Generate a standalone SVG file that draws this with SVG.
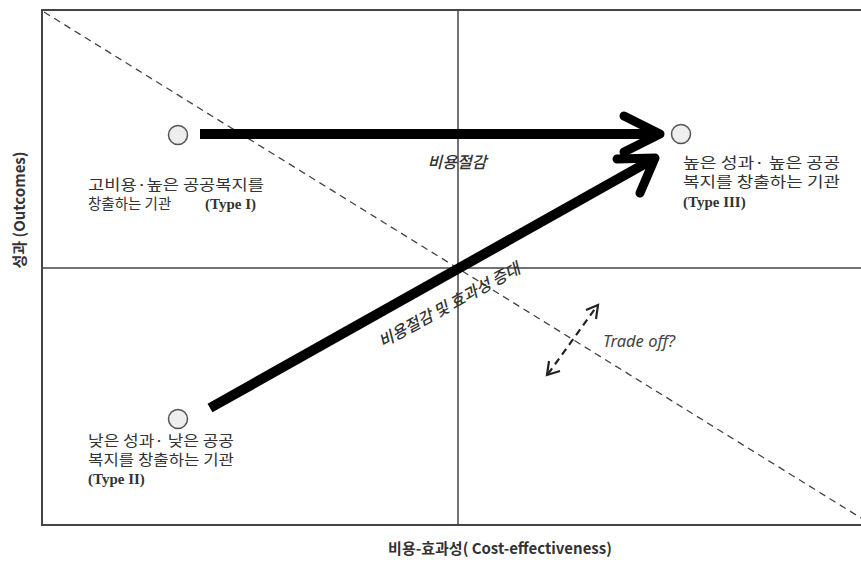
<svg xmlns="http://www.w3.org/2000/svg" width="861" height="562" viewBox="0 0 861 562">
<style>
.frame{stroke:#444;stroke-width:2;fill:none}
.axis{stroke:#444;stroke-width:1.5;fill:none}
.dash{stroke:#444;stroke-width:1.3;stroke-dasharray:7 5;fill:none}
.thick{stroke:#000;stroke-width:10;fill:none;stroke-linejoin:round}
.head{stroke:#000;stroke-width:9;fill:none;stroke-linecap:round;stroke-linejoin:round}
.node{fill:#eee;stroke:#555;stroke-width:1.5}
.ko{font-family:"Noto Sans CJK KR","Noto Sans",sans-serif;font-size:14.5px;fill:#333}
.ser{font-family:"Liberation Serif",serif;font-weight:bold;font-size:15px;fill:#333}
.it{font-family:"Noto Sans CJK KR","Noto Sans",sans-serif;font-style:italic;font-weight:500;font-size:16px;fill:#333}
.to{font-family:"Noto Sans","Noto Sans CJK KR",sans-serif;font-style:italic;font-weight:normal;font-size:16.5px;fill:#444}
.bold{font-family:"Noto Sans CJK KR","Noto Sans",sans-serif;font-weight:bold;font-size:15px;fill:#333}
</style>
<rect width="861" height="562" fill="#fff"/>
<g id="frame">
<path class="frame" d="M861,10 H42 V525 H861"/>
<line class="axis" x1="458" y1="10" x2="458" y2="525"/>
<line class="axis" x1="42" y1="268" x2="861" y2="268"/>
</g>
<g id="connectors">
<line class="dash" x1="44" y1="12" x2="861" y2="518"/>
<line class="thick" x1="200" y1="134" x2="652" y2="134"/>
<polyline class="head" points="624,116 660,134 624,152"/>
<line class="thick" x1="210" y1="408" x2="648" y2="162"/>
<polyline class="head" points="617,159 655,158 640,193"/>
<line stroke="#222" stroke-width="2.2" stroke-dasharray="7 5" x1="548" y1="374" x2="597" y2="306"/>
<polyline fill="none" stroke="#222" stroke-width="2.2" points="586,310 598,305 596,319"/>
<polyline fill="none" stroke="#222" stroke-width="2.2" points="549,361 547,375 560,371"/>
</g>
<g id="type1">
<circle class="node" cx="178" cy="135" r="9.5"/>
<text class="ko" x="88" y="190" textLength="176" lengthAdjust="spacingAndGlyphs">고비용·높은 공공복지를</text>
<text class="ko" x="88" y="209">창출하는 기관</text>
<text class="ser" x="205" y="209">(Type I)</text>
</g>
<g id="type3">
<circle class="node" cx="681" cy="134" r="9.5"/>
<text class="ko" x="683" y="168" textLength="157" lengthAdjust="spacingAndGlyphs">높은 성과· 높은 공공</text>
<text class="ko" x="683" y="187" textLength="157" lengthAdjust="spacingAndGlyphs">복지를 창출하는 기관</text>
<text class="ser" x="683" y="207">(Type III)</text>
</g>
<g id="type2">
<circle class="node" cx="178" cy="419" r="9.5"/>
<text class="ko" x="88" y="446" textLength="146" lengthAdjust="spacingAndGlyphs">낮은 성과· 낮은 공공</text>
<text class="ko" x="88" y="465" textLength="146" lengthAdjust="spacingAndGlyphs">복지를 창출하는 기관</text>
<text class="ser" x="88" y="484">(Type II)</text>
</g>
<g id="labels">
<text class="it" x="457" y="168" text-anchor="middle">비용절감</text>
<text class="it" x="0" y="0" text-anchor="middle" transform="translate(452,310) rotate(-28.5)">비용절감 및 효과성 증대</text>
<text class="to" x="603" y="347">Trade off?</text>
<text class="bold" x="0" y="0" text-anchor="middle" transform="translate(25,210) rotate(-90)">성과 (Outcomes)</text>
<text class="bold" x="500" y="554" text-anchor="middle">비용-효과성( Cost-effectiveness)</text>
</g>
</svg>
